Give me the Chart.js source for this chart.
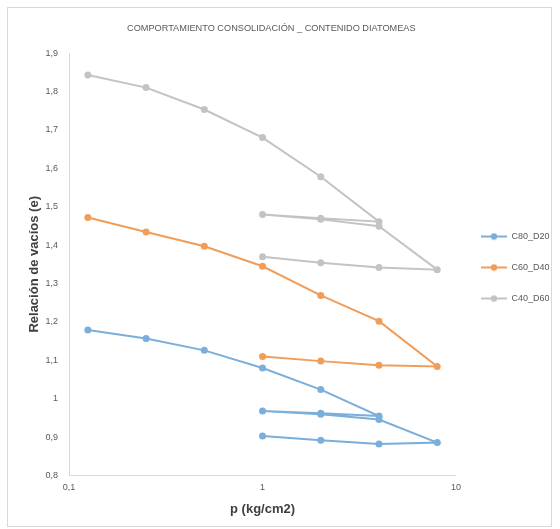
<!DOCTYPE html>
<html>
<head>
<meta charset="utf-8">
<script src="https://cdn.jsdelivr.net/npm/chart.js@4"></script>
<style>
  body { margin: 0; background: #fff; }
  #wrap { position: absolute; left: 7px; top: 7px; width: 545px; height: 520px; border: 1px solid #d9d9d9; box-sizing: border-box; }
  #chart { position: absolute; left: 0; top: 0; }
</style>
</head>
<body>
<div id="wrap"><canvas id="chart" width="543" height="518"></canvas></div>
<script>
  // presion (kg/cm2) y relacion de vacios por ensayo
  const pLoop = [0.125, 0.25, 0.5, 1, 2, 4, 2, 1, 2, 4, 8, 4, 2, 1];
  const pSimple = [0.125, 0.25, 0.5, 1, 2, 4, 8, 4, 2, 1];

  const eC80_D20 = [1.179, 1.157, 1.126, 1.080, 1.024, 0.955, 0.962, 0.968, 0.960, 0.946, 0.886, 0.882, 0.892, 0.903];
  const eC60_D40 = [1.472, 1.434, 1.397, 1.345, 1.269, 1.202, 1.084, 1.087, 1.098, 1.110];
  const eC40_D60 = [1.843, 1.810, 1.753, 1.680, 1.578, 1.461, 1.470, 1.480, 1.467, 1.449, 1.336, 1.342, 1.354, 1.370];

  const seriesNames = ['C80_D20', 'C60_D40', 'C40_D60'];
  const colors = ['#7aaedb', '#f09d5a', '#c3c3c3'];
  const xTicks = [0.1, 1, 10];

  const txt = '#595959';
  const sans = "'Liberation Sans', Arial, sans-serif";

  function pts(p, e) {
    return p.map((v, i) => ({ x: v, y: e[i] }));
  }

  // legend marker: line with dot, small blank gap on the left
  function legendIcon(color) {
    const c = document.createElement('canvas');
    c.width = 29; c.height = 8;
    const g = c.getContext('2d');
    g.strokeStyle = color; g.lineWidth = 2;
    g.beginPath(); g.moveTo(3, 4); g.lineTo(29, 4); g.stroke();
    g.fillStyle = color;
    g.beginPath(); g.arc(16, 4, 3.2, 0, Math.PI * 2); g.fill();
    return c;
  }
  const icons = colors.map(legendIcon);

  const fmt = v => String(Number(v.toFixed(1))).replace('.', ',');

  new Chart(document.getElementById('chart'), {
    type: 'line',
    data: {
      datasets: [
        { label: seriesNames[0], data: pts(pLoop, eC80_D20) },
        { label: seriesNames[1], data: pts(pSimple, eC60_D40) },
        { label: seriesNames[2], data: pts(pLoop, eC40_D60) }
      ].map((d, i) => Object.assign(d, {
        borderColor: colors[i],
        backgroundColor: colors[i],
        borderWidth: 2,
        pointRadius: 3.5,
        pointBorderWidth: 0,
        tension: 0
      }))
    },
    options: {
      responsive: false,
      animation: false,
      layout: { padding: { left: 19, right: -8.5, top: 0, bottom: 9 } },
      scales: {
        x: {
          type: 'logarithmic',
          min: 0.1,
          max: 10,
          afterBuildTicks: s => { s.ticks = xTicks.map(v => ({ value: v })); },
          grid: { display: false, drawTicks: false },
          border: { display: true, color: '#d9d9d9', width: 1 },
          ticks: { color: txt, font: { family: sans, size: 9 }, padding: 7, callback: v => fmt(v) },
          title: { display: true, text: 'p (kg/cm2)', color: '#404040', font: { family: sans, size: 13, weight: 'bold' }, padding: { top: 1, bottom: 0 } }
        },
        y: {
          min: 0.8,
          max: 1.9,
          ticks: { stepSize: 0.1, color: txt, font: { family: sans, size: 9 }, padding: 11, callback: v => fmt(v) },
          grid: { display: false, drawTicks: false },
          border: { display: true, color: '#d9d9d9', width: 1 },
          title: { display: true, text: 'Relación de vacíos (e)', color: '#404040', font: { family: sans, size: 13, weight: 'bold' }, padding: { top: 0, bottom: -8 } }
        }
      },
      plugins: {
        title: {
          display: true,
          fullSize: false,
          align: 'start',
          text: 'COMPORTAMIENTO CONSOLIDACIÓN _ CONTENIDO DIATOMEAS',
          color: txt,
          font: { family: sans, size: 9.2, weight: 'normal' },
          padding: { top: 15, bottom: 19 }
        },
        legend: {
          position: 'right',
          title: { display: true, text: '', font: { size: 1 }, padding: { top: 4.4, bottom: 4.4 } },
          labels: {
            usePointStyle: true,
            pointStyleWidth: 29,
            padding: 22,
            color: txt,
            font: { family: sans, size: 9 },
            generateLabels: chart => {
              const items = Chart.defaults.plugins.legend.labels.generateLabels(chart);
              items.forEach((it, i) => { it.pointStyle = icons[i]; });
              return items;
            }
          }
        },
        tooltip: { enabled: false }
      }
    },
    plugins: [{
      // nudge the title so it sits where the original one does
      id: 'titleShift',
      afterLayout: chart => {
        const t = chart.titleBlock;
        if (t) { t.left = 119; t.right = 119 + t.width; }
      }
    }]
  });
</script>
</body>
</html>
